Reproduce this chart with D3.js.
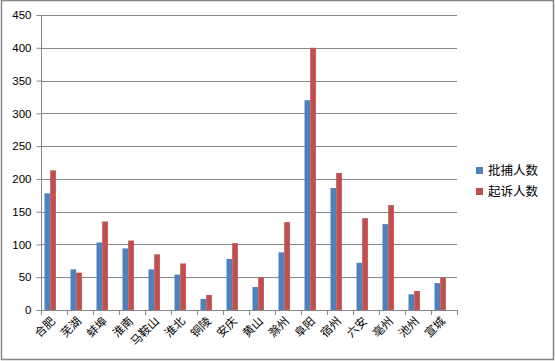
<!DOCTYPE html>
<html>
<head>
<meta charset="utf-8">
<script src="https://cdn.jsdelivr.net/npm/d3@7"></script>
<style>
  body { margin: 0; background: #fff; }
  svg { font-family: "Noto Sans CJK SC", "DejaVu Sans", sans-serif; }
</style>
</head>
<body>
<script>
// data
var cities = ["合肥", "芜湖", "蚌埠", "淮南", "马鞍山", "淮北", "铜陵", "安庆", "黄山", "滁州", "阜阳", "宿州", "六安", "亳州", "池州", "宣城"];
var arrests = [178, 62, 103, 94, 62, 54, 17, 78, 35, 88, 320, 186, 72, 131, 24, 41];
var prosecutions = [213, 57, 135, 106, 85, 71, 23, 102, 50, 134, 400, 209, 140, 160, 29, 49];
var seriesNames = ["批捕人数", "起诉人数"];
var colors = ["#4F81BD", "#C0504D"];
var yTicks = [0, 50, 100, 150, 200, 250, 300, 350, 400, 450];

var W = 555, H = 361;
var plotLeft = 41, plotRight = 457, plotTop = 15, plotBottom = 310;

var svg = d3.select("body").append("svg").attr("width", W).attr("height", H);

// outer border
svg.append("rect")
  .attr("x", 1.5).attr("y", 0.5)
  .attr("width", W - 3).attr("height", H - 2)
  .attr("fill", "#fff").attr("stroke", "#868686").attr("stroke-width", 1.5);

var x = d3.scaleBand().domain(cities).range([plotLeft, plotRight]);
var x1 = d3.scaleBand().domain(seriesNames).range([3.5, 14.9]);
var y = d3.scaleLinear().domain([0, 450]).range([plotBottom, plotTop]);

// gridlines
svg.append("g").selectAll("line")
  .data(yTicks.slice(1))
  .enter().append("line")
  .attr("x1", plotLeft).attr("x2", plotRight)
  .attr("y1", function(d) { return Math.round(y(d)) + 0.5; })
  .attr("y2", function(d) { return Math.round(y(d)) + 0.5; })
  .attr("stroke", "#868686").attr("stroke-width", 1);

// bars
var rows = cities.map(function(c, i) {
  return { city: c, values: [arrests[i], prosecutions[i]] };
});

var groups = svg.append("g").selectAll("g")
  .data(rows)
  .enter().append("g")
  .attr("transform", function(d) { return "translate(" + x(d.city) + ",0)"; });

groups.selectAll("rect")
  .data(function(d) { return d.values.map(function(v, j) { return { name: seriesNames[j], v: v, j: j }; }); })
  .enter().append("rect")
  .attr("x", function(d) { return x1(d.name); })
  .attr("width", x1.bandwidth())
  .attr("y", function(d) { return y(d.v); })
  .attr("height", function(d) { return y(0) - y(d.v); })
  .attr("fill", function(d) { return colors[d.j]; });

// Y axis
var yAxis = d3.axisLeft(y).tickValues(yTicks).tickSize(5).tickPadding(5);
var gy = svg.append("g")
  .attr("transform", "translate(" + (plotLeft + 0.5) + ",0)")
  .call(yAxis);
gy.selectAll("line").attr("stroke", "#868686");
gy.select(".domain").attr("stroke", "#868686").attr("d", "M0," + plotTop + "V" + plotBottom);
gy.selectAll("text").attr("font-size", 11.5).attr("fill", "#000")
  .attr("font-family", "'Liberation Sans', Arial, sans-serif");

// X axis
var xAxis = d3.axisBottom(x).tickSize(0).tickFormat("");
var gx = svg.append("g")
  .attr("transform", "translate(0," + (plotBottom + 0.5) + ")")
  .call(xAxis);
gx.select(".domain").attr("stroke", "#868686").attr("d", "M" + plotLeft + ",0H" + plotRight);
gx.selectAll(".tick").remove();

// category separator ticks
svg.append("g").selectAll("line")
  .data(cities.concat(["end"]))
  .enter().append("line")
  .attr("x1", function(d, i) { return Math.round(plotLeft + i * x.bandwidth()) + 0.5; })
  .attr("x2", function(d, i) { return Math.round(plotLeft + i * x.bandwidth()) + 0.5; })
  .attr("y1", plotBottom).attr("y2", plotBottom + 5)
  .attr("stroke", "#868686");

// rotated labels
svg.append("g").selectAll("text")
  .data(cities)
  .enter().append("text")
  .attr("transform", function(d) {
    return "translate(" + (x(d) + x.bandwidth() / 2 - 1) + "," + (plotBottom + 9) + ") rotate(-45)";
  })
  .attr("text-anchor", "end")
  .attr("dy", "0.35em")
  .attr("font-size", 11.5)
  .text(function(d) { return d; });

// legend
var legend = svg.append("g").selectAll("g")
  .data(seriesNames)
  .enter().append("g")
  .attr("transform", function(d, i) { return "translate(476," + (167 + i * 21) + ")"; });

legend.append("rect")
  .attr("width", 7).attr("height", 7)
  .attr("fill", function(d, i) { return colors[i]; });

legend.append("text")
  .attr("x", 12).attr("y", 4)
  .attr("dy", "0.35em")
  .attr("font-size", 12.5)
  .text(function(d) { return d; });
</script>
</body>
</html>
